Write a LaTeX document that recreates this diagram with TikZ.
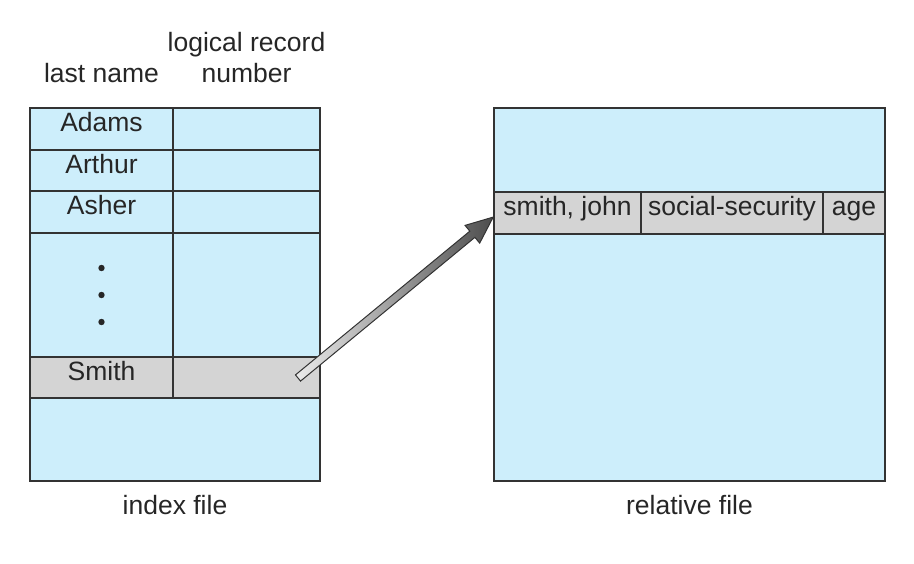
\documentclass[tikz,border=0pt]{standalone}
\usepackage{fontspec}
\setmainfont{Liberation Sans}
\begin{document}
\definecolor{lb}{HTML}{CDEEFB}
\definecolor{gr}{HTML}{D4D4D4}
\definecolor{ln}{HTML}{333333}
\begin{tikzpicture}[x=1pt,y=-1pt,
  cell/.style={draw=ln,line width=1.2pt,fill=lb},
  gcell/.style={draw=ln,line width=1.2pt,fill=gr},
  lbl/.style={font=\fontsize{26.5}{30}\selectfont,text=black!85,inner sep=0pt,text height=0.72em,text depth=0.2em}]
\useasboundingbox (0,0) rectangle (914,563);
% index file
\draw[cell] (30,108) rectangle (320,481);
\draw[gcell] (30,357) rectangle (320,398);
\foreach \y in {150,191,233,357}{\draw[ln,line width=1.2pt] (30,\y)--(320,\y);}
\draw[ln,line width=1.2pt] (173,108)--(173,398);
\node[lbl] (adams) at (101.5,129) {Adams};
\node[lbl] (arthur) at (101.5,171) {Arthur};
\node[lbl] (asher) at (101.5,212) {Asher};
\node[lbl] (smith) at (101.5,378) {Smith};
\foreach \y in {268,295,322}{\fill[black!85] (101.5,\y) circle (3.2);}
\node[lbl] (h1) at (101.5,80) {last name};
\node[lbl] (h2a) at (246.5,49) {logical record};
\node[lbl] (h2b) at (246.5,80) {number};
\node[lbl] (idx) at (175,512) {index file};
% relative file
\draw[cell] (494,108) rectangle (885,481);
\draw[gcell] (494,192) rectangle (885,234);
\draw[ln,line width=1.2pt] (641,192)--(641,234) (823,192)--(823,234);
\node[lbl] (sj) at (567.5,213) {smith, john};
\node[lbl] (ss) at (732,213) {social-security};
\node[lbl] (age) at (854,213) {age};
\node[lbl] (rel) at (689.5,512) {relative file};
% arrow
\coordinate (tail) at (298,378);
\begin{scope}[shift={(tail)},x=1pt,y=1pt,rotate=39.5]
\shade[left color=gray!15,right color=black!70,draw=ln,line width=1pt,line join=miter]
 (0,-4)--(226,-4)--(226,-11.5)--(253,0)--(226,11.5)--(226,4)--(0,4)--cycle;
\end{scope}
\end{tikzpicture}
\end{document}
